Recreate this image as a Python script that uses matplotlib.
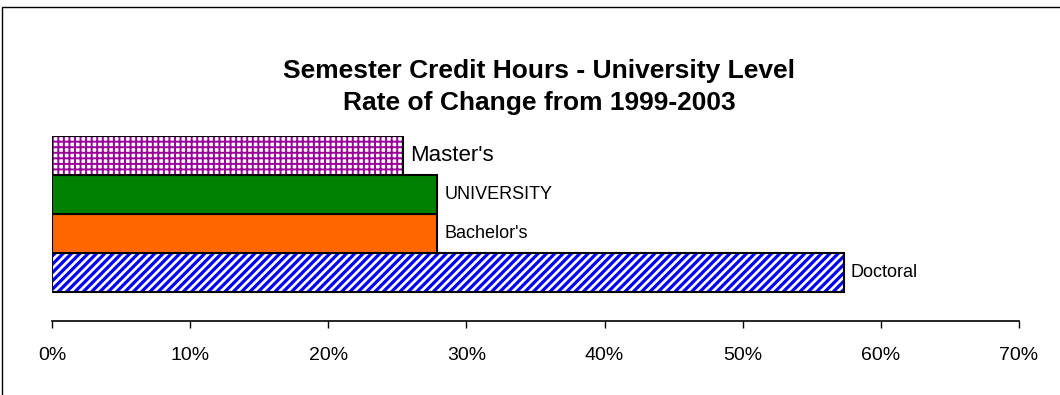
import matplotlib
matplotlib.use("Agg")
import matplotlib.pyplot as plt
from matplotlib.patches import Rectangle

plt.rcParams['font.family'] = ['Liberation Sans', 'DejaVu Sans']

# bottom to top
levels = ["Doctoral", "Bachelor's", "UNIVERSITY", "Master's"]
change = [57.3, 27.9, 27.9, 25.4]  # percent change 1999-2003
colors = ["white", "#FF6600", "#008000", "white"]
hatches = ["////", None, None, "+++"]
hatch_colors = ["#0000FF", None, None, "#990099"]
hatch_widths = [2.3, 1.0, 1.0, 1.4]
label_sizes = [13, 13, 13, 16]

W, H = 1060, 395
fig = plt.figure(figsize=(W / 100, H / 100), dpi=100)
ax = fig.add_axes([52 / W, (H - 321) / H, (1019 - 52) / W, (321 - 136) / H])

ypos = list(range(len(levels)))
for i in ypos:
    if hatches[i]:
        with plt.rc_context({'hatch.linewidth': hatch_widths[i]}):
            ax.barh(ypos[i], change[i], height=1.0, color="white",
                    edgecolor=hatch_colors[i], hatch=hatches[i], linewidth=0)
    else:
        ax.barh(ypos[i], change[i], height=1.0, color=colors[i], linewidth=0)
    ax.barh(ypos[i], change[i], height=1.0, fill=False, edgecolor="black",
            linewidth=1.5)
    ax.annotate(levels[i], (change[i], ypos[i]), xytext=(5, 0),
                textcoords="offset points", va="center", ha="left",
                fontsize=label_sizes[i])

ax.set_xlim(0, 70)
ax.set_ylim(-1.244, 3.5)
ax.set_xticks(range(0, 71, 10))
ax.set_xticklabels([f"{t}%" for t in range(0, 71, 10)], fontsize=14)
ax.set_yticks([])
for s in ["top", "right", "left"]:
    ax.spines[s].set_visible(False)
ax.spines["bottom"].set_linewidth(1.2)
ax.tick_params(axis="x", direction="out", length=5, width=1, pad=14)

fig.text(539 / W, 1 - 87 / H,
         "Semester Credit Hours - University Level\nRate of Change from 1999-2003",
         ha="center", va="center", fontsize=19, fontweight="bold",
         linespacing=1.42)

# chart-area border (only top and left edges visible)
fig.add_artist(Rectangle((2 / W, -0.1), 1.2, 1 - 7 / H + 0.1,
                         transform=fig.transFigure, fill=False,
                         edgecolor="black", linewidth=1))

fig.savefig("out.png", dpi=100)
